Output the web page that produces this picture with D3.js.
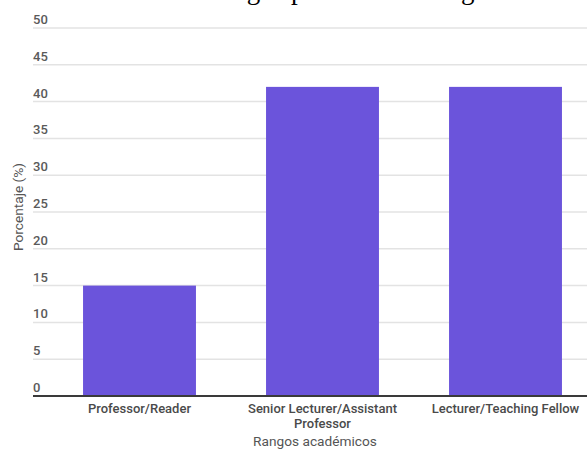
<!DOCTYPE html>
<html>
<head>
<meta charset="utf-8">
<script src="https://cdn.jsdelivr.net/npm/d3@7"></script>
<style>
  html, body { margin: 0; padding: 0; background: #fff; }
  svg { display: block; }
</style>
</head>
<body>
<svg id="chart" width="587" height="450"></svg>
<script>
// Academic rank distribution (percent)
const categories = ["Professor/Reader", "Senior Lecturer/Assistant Professor", "Lecturer/Teaching Fellow"];
const categoryLines = [["Professor/Reader"], ["Senior Lecturer/Assistant", "Professor"], ["Lecturer/Teaching Fellow"]];
const values = [15, 42, 42];
const yTicks = [0, 5, 10, 15, 20, 25, 30, 35, 40, 45, 50];
const titleText = "Distribución de rangos por área de categoría";
const xAxisTitle = "Rangos académicos";
const yAxisTitle = "Porcentaje (%)";

const svg = d3.select("#chart");
const W = 587;
const font = "Roboto, 'Noto Sans', Arial, sans-serif";

const y = d3.scaleLinear().domain([0, 50]).range([396, 28]);
const x = d3.scaleBand().domain(categories).range([48, 597])
  .paddingInner(0.383).paddingOuter(0.1915);

// Title (runs off the top edge)
const title = svg.append("text")
  .attr("y", -1)
  .attr("font-family", "'Liberation Serif', 'Times New Roman', serif")
  .attr("font-size", 27)
  .attr("fill", "#000")
  .text(titleText);
// place the "p" of "por" at its column
const pIndex = titleText.indexOf("por");
const pOffset = title.node().getSubStringLength(0, pIndex);
title.attr("x", 291 - pOffset);

// Gridlines + y tick labels
const grid = svg.append("g");
grid.selectAll("line").data(yTicks.filter(d => d > 0)).join("line")
  .attr("x1", 33).attr("x2", W)
  .attr("y1", d => y(d)).attr("y2", d => y(d))
  .attr("stroke", "#e3e3e3").attr("stroke-width", 1.5);

svg.append("g").selectAll("text").data(yTicks).join("text")
  .attr("x", 33)
  .attr("y", d => y(d) - 4)
  .attr("font-family", font)
  .attr("font-size", 13)
  .attr("font-weight", 500)
  .attr("fill", "#5a5a5a")
  .text(d => d);

// Bars
svg.append("g").selectAll("rect").data(values).join("rect")
  .attr("x", (d, i) => x(categories[i]))
  .attr("width", x.bandwidth())
  .attr("y", d => y(d))
  .attr("height", d => y(0) - y(d))
  .attr("fill", "#6b54db");

// Baseline
svg.append("line")
  .attr("x1", 33).attr("x2", W)
  .attr("y1", y(0)).attr("y2", y(0))
  .attr("stroke", "#3a3a3a").attr("stroke-width", 2);

// Category labels
const xl = svg.append("g");
categoryLines.forEach((lines, i) => {
  const cx = x(categories[i]) + x.bandwidth() / 2;
  const t = xl.append("text")
    .attr("text-anchor", "middle")
    .attr("font-family", font)
    .attr("font-size", 13)
    .attr("font-weight", 500)
    .attr("fill", "#4a4a4a");
  lines.forEach((ln, j) => {
    t.append("tspan").attr("x", cx).attr("y", 413 + j * 14.5).text(ln);
  });
});

// Axis titles
svg.append("text")
  .attr("x", 315).attr("y", 446)
  .attr("text-anchor", "middle")
  .attr("font-family", font)
  .attr("font-size", 13.7)
  .attr("fill", "#555")
  .text(xAxisTitle);

svg.append("text")
  .attr("transform", "translate(23,207) rotate(-90)")
  .attr("text-anchor", "middle")
  .attr("font-family", font)
  .attr("font-size", 13.7)
  .attr("fill", "#555")
  .text(yAxisTitle);
</script>
</body>
</html>
